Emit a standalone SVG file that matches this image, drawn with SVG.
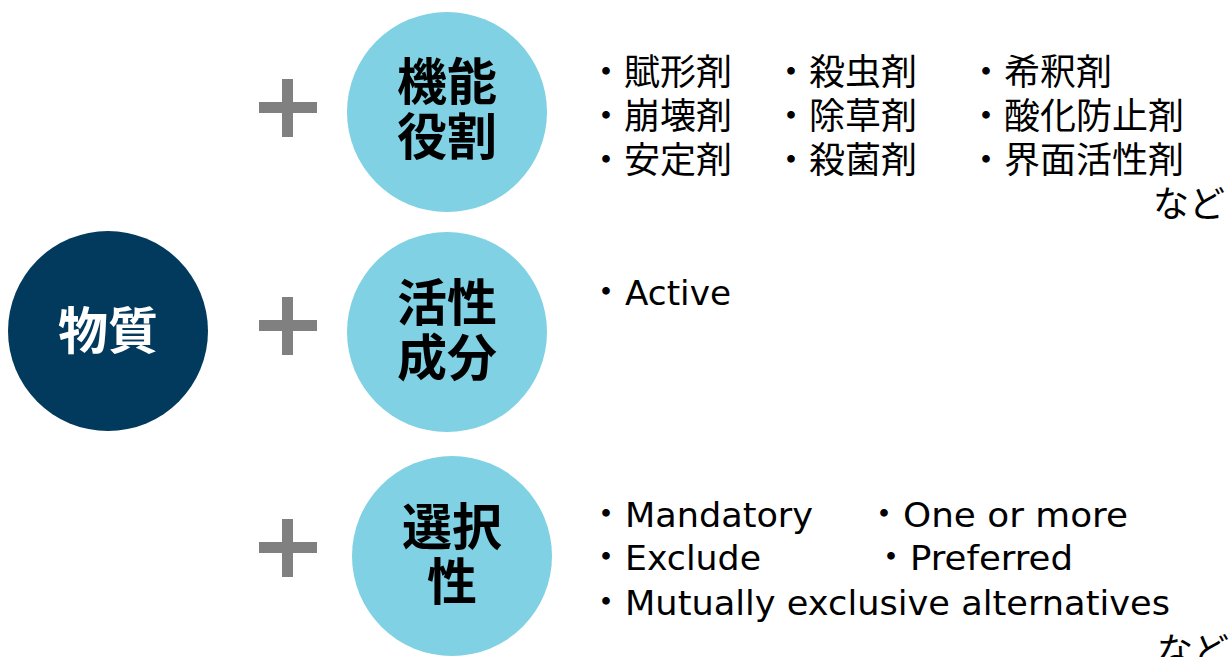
<svg xmlns="http://www.w3.org/2000/svg" width="1231" height="657" viewBox="0 0 1231 657">
<style>
.dark{fill:#023a5e}
.light{fill:#7fd1e3}
.plus{fill:#808080}
.ct{font-family:"Noto Sans CJK JP",sans-serif;font-weight:bold;font-size:50px;text-anchor:middle}
.jp{font-family:"Noto Sans CJK JP",sans-serif;font-size:36px;fill:#000}
.en{font-family:"DejaVu Sans","Noto Sans CJK JP",sans-serif;font-size:33px;fill:#000}
</style>
<rect width="1231" height="657" fill="#fff"/>
<g id="node-busshitsu">
<circle class="dark" cx="108" cy="331" r="100"/>
<text class="ct" x="108" y="349" fill="#fff">物質</text>
</g>
<g id="connectors">
<path class="plus" d="M259 102h58v11h-58z M282 79h11v58h-11z"/>
<path class="plus" d="M259 320h58v11h-58z M282 297h11v58h-11z"/>
<path class="plus" d="M259 542h58v11h-58z M282 519h11v58h-11z"/>
</g>
<g id="node-kinou">
<circle class="light" cx="447" cy="112" r="100"/>
<text class="ct"><tspan x="447" y="100">機能</tspan><tspan x="447" y="155">役割</tspan></text>
</g>
<g id="node-kassei">
<circle class="light" cx="447" cy="332" r="100"/>
<text class="ct"><tspan x="447" y="321">活性</tspan><tspan x="447" y="376">成分</tspan></text>
</g>
<g id="node-sentaku">
<circle class="light" cx="452" cy="556" r="100"/>
<text class="ct"><tspan x="452" y="545">選択</tspan><tspan x="452" y="600">性</tspan></text>
</g>
<g id="list-kinou">
<text class="jp"><tspan x="588" y="85">・賦形剤</tspan><tspan x="588" y="129">・崩壊剤</tspan><tspan x="588" y="173">・安定剤</tspan></text>
<text class="jp"><tspan x="773" y="85">・殺虫剤</tspan><tspan x="773" y="129">・除草剤</tspan><tspan x="773" y="173">・殺菌剤</tspan></text>
<text class="jp"><tspan x="968" y="85">・希釈剤</tspan><tspan x="968" y="129">・酸化防止剤</tspan><tspan x="968" y="173">・界面活性剤</tspan><tspan x="1153" y="217">など</tspan></text>
</g>
<g id="list-kassei">
<text class="jp" x="588" y="305">・</text>
<text class="en" x="625" y="305" textLength="106" lengthAdjust="spacingAndGlyphs">Active</text>
</g>
<g id="list-sentaku">
<text class="jp"><tspan x="588" y="527">・</tspan><tspan x="588" y="570">・</tspan><tspan x="588" y="615">・</tspan></text>
<text class="en" x="625" y="527" textLength="188" lengthAdjust="spacingAndGlyphs">Mandatory</text>
<text class="jp" x="866" y="527">・</text>
<text class="en" x="903" y="527" textLength="225" lengthAdjust="spacingAndGlyphs">One or more</text>
<text class="en" x="625" y="570" textLength="136" lengthAdjust="spacingAndGlyphs">Exclude</text>
<text class="jp" x="873" y="570">・</text>
<text class="en" x="910" y="570" textLength="163" lengthAdjust="spacingAndGlyphs">Preferred</text>
<text class="en" x="625" y="615" textLength="545" lengthAdjust="spacingAndGlyphs">Mutually exclusive alternatives</text>
<text class="jp" x="1157" y="664">など</text>
</g>
</svg>
